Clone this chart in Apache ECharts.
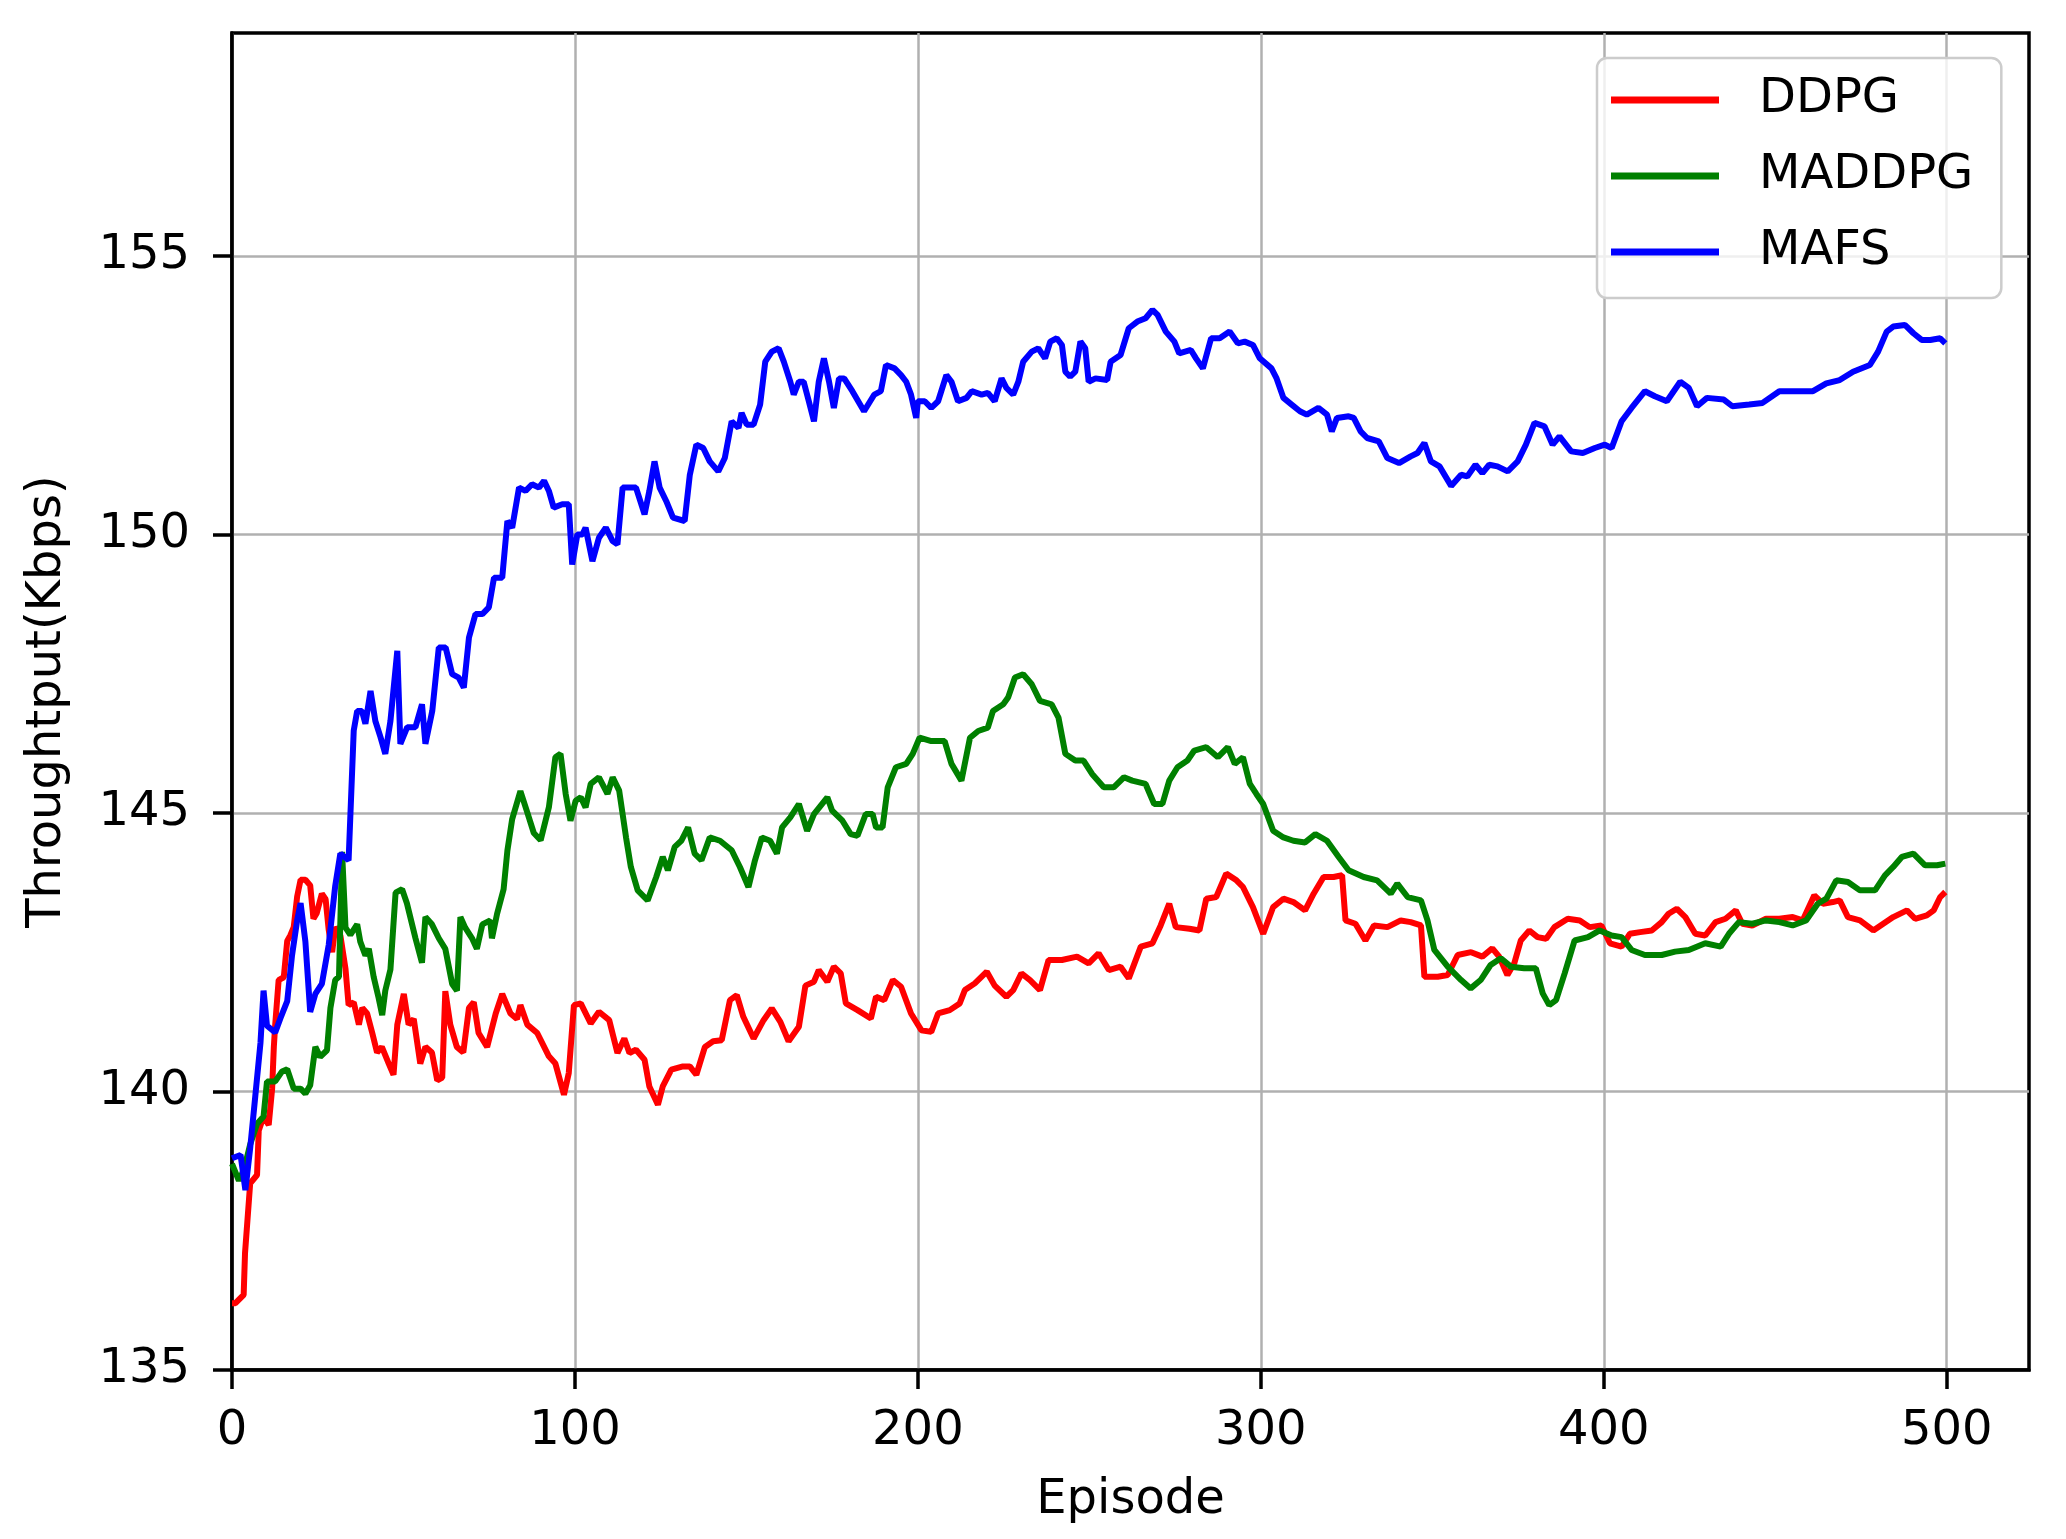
<!DOCTYPE html>
<html><head><meta charset="utf-8">
<script src="https://cdn.jsdelivr.net/npm/echarts@6/dist/echarts.min.js"></script>
<style>html,body{margin:0;padding:0;background:#fff}#c{width:2066px;height:1539px}</style>
</head><body><div id="c"></div>
<script>
const xTicks = [0, 100, 200, 300, 400, 500];
const yTicks = [135, 140, 145, 150, 155];
const seriesNames = ['DDPG', 'MADDPG', 'MAFS'];
const seriesColors = ['#ff0000', '#008000', '#0000ff'];

const ddpg = [[0,136.2],[1,136.2],[3.4,136.35],[3.8,137.1],[5.3,138.35],[7.3,138.5],[7.8,139.3],[9.2,139.55],[10.7,139.4],[11.7,140.05],[12.2,140.8],[12.6,141.2],[13.6,142.0],[15.1,142.05],[16.1,142.7],[17,142.8],[18,142.95],[19,143.5],[20,143.8],[21.4,143.8],[22.8,143.7],[23.75,143.1],[24.7,143.2],[26.2,143.55],[27.3,143.45],[28.2,142.9],[29.2,142.5],[30.1,142.95],[31.6,142.8],[33.1,142.2],[34,141.55],[35.5,141.6],[37,141.2],[38,141.5],[39.4,141.4],[40.9,141.05],[42.3,140.7],[43.7,140.8],[45.7,140.5],[47.1,140.3],[48.2,141.2],[50.1,141.75],[51.5,141.2],[53,141.3],[54.9,140.5],[56.4,140.8],[58.3,140.7],[59.85,140.2],[61.3,140.25],[62.2,141.8],[63.65,141.2],[65.55,140.8],[67.45,140.7],[69.1,141.5],[70.5,141.6],[71.9,141.05],[74.4,140.8],[76.9,141.4],[78.8,141.75],[81.2,141.4],[83.1,141.3],[84.1,141.55],[86.1,141.2],[89,141.05],[92.4,140.63],[94.3,140.5],[96.8,139.94],[98.2,140.33],[99.7,141.55],[101.7,141.58],[104.6,141.22],[107,141.43],[110,141.28],[112.4,140.69],[114.4,140.95],[115.9,140.69],[117.8,140.75],[120.3,140.57],[121.7,140.09],[124.2,139.76],[125.6,140.09],[128.1,140.39],[131.5,140.45],[133.5,140.45],[135.4,140.3],[137.9,140.8],[140.3,140.9],[142.8,140.92],[145.2,141.64],[147.2,141.73],[149.1,141.34],[152.1,140.95],[155,141.28],[157.4,141.49],[159.9,141.25],[162.3,140.9],[165.3,141.16],[167.2,141.9],[169.7,141.97],[171.1,142.18],[173.6,141.97],[175.5,142.24],[177.5,142.12],[179,141.58],[182.4,141.46],[186.3,141.31],[187.8,141.7],[190.2,141.64],[192.7,142.0],[195.1,141.88],[198,141.4],[201,141.1],[203.9,141.07],[205.9,141.4],[209.3,141.46],[212.2,141.58],[213.7,141.82],[216.6,141.94],[220.1,142.15],[222.4,141.9],[225.8,141.7],[227.8,141.82],[230.2,142.12],[232.7,142.0],[235.6,141.82],[238.1,142.36],[242,142.36],[246.4,142.42],[249.8,142.3],[252.7,142.48],[255.7,142.18],[259.1,142.24],[261.5,142.03],[265,142.6],[268.4,142.66],[270.8,142.98],[273.3,143.37],[275.2,142.95],[279.2,142.92],[282.1,142.89],[284.1,143.46],[287,143.49],[289.9,143.91],[292.9,143.79],[294.8,143.67],[297.7,143.31],[300.7,142.83],[303.6,143.31],[306.6,143.46],[309.5,143.4],[312.9,143.25],[315.4,143.55],[318.3,143.85],[321.2,143.85],[323.7,143.88],[324.7,143.07],[327.6,143.01],[330.5,142.71],[333,142.98],[336.9,142.95],[340.8,143.07],[343.7,143.04],[346.7,142.98],[347.7,142.06],[351.6,142.06],[354.5,142.09],[357.4,142.45],[361.3,142.5],[364.6,142.42],[367.5,142.57],[369.5,142.42],[371.9,142.09],[373.9,142.3],[375.8,142.71],[378.3,142.89],[380.7,142.77],[383.2,142.74],[385.6,142.95],[389.5,143.1],[393,143.07],[395.9,142.95],[399.3,142.98],[401.8,142.66],[405.2,142.6],[407.6,142.83],[410.6,142.86],[414,142.89],[416.9,143.04],[418.9,143.19],[421.3,143.28],[423.8,143.13],[426.7,142.83],[429.6,142.8],[432.6,143.04],[435.5,143.1],[438.5,143.25],[440.4,143.01],[443.3,142.98],[447.3,143.1],[451.2,143.1],[455.1,143.13],[458,143.07],[461.4,143.52],[463.9,143.37],[466.8,143.4],[468.8,143.43],[471.2,143.13],[474.7,143.07],[478.6,142.89],[481.5,143.01],[484.4,143.13],[488.4,143.25],[490.8,143.1],[494.2,143.16],[496.2,143.25],[498.1,143.49],[499.6,143.58]];

const maddpg = [[0,138.7],[2,138.4],[3.5,138.6],[5.3,139.05],[7.3,139.42],[9.2,139.55],[10.2,140.18],[12.6,140.18],[14.6,140.36],[16.1,140.4],[18,140.05],[20,140.05],[21.4,139.96],[22.8,140.11],[24.3,140.8],[25.7,140.62],[27.7,140.74],[28.7,141.5],[30.1,142.0],[31.2,142.06],[32.1,144.3],[33.1,142.94],[34.5,142.81],[36.5,143.0],[37.4,142.69],[38.9,142.44],[39.9,142.56],[41.3,142.06],[42.75,141.68],[43.8,141.37],[44.7,141.81],[46.2,142.19],[47.7,143.57],[49.6,143.63],[51,143.38],[53.5,142.75],[55.4,142.31],[56.4,143.13],[58.3,143.0],[60.3,142.75],[62.2,142.56],[64.2,141.93],[65.6,141.81],[66.6,143.13],[68,142.94],[70,142.75],[71.4,142.56],[73,143.0],[75.3,143.07],[75.8,142.75],[77.3,143.19],[79.2,143.63],[80.3,144.32],[81.7,144.89],[84.1,145.39],[86.1,145.01],[88,144.64],[90,144.51],[92.4,145.1],[94.3,146.0],[95.8,146.06],[97.3,145.34],[98.7,144.86],[100.2,145.22],[101.7,145.28],[103.1,145.1],[104.6,145.52],[107,145.64],[109.5,145.34],[111,145.64],[112.9,145.4],[114.9,144.56],[116.3,144.03],[118.3,143.61],[121.2,143.43],[123.7,143.85],[125.6,144.21],[127.1,143.97],[129.1,144.39],[131,144.5],[133,144.74],[134.9,144.27],[136.9,144.15],[139.3,144.56],[142.3,144.5],[145.7,144.33],[148.1,144.03],[150.6,143.67],[152.5,144.15],[154.5,144.56],[156.9,144.5],[158.9,144.27],[160.4,144.74],[162.8,144.92],[165.3,145.16],[167.7,144.68],[169.7,144.98],[173.6,145.28],[175,145.04],[178,144.86],[180.4,144.62],[182.4,144.59],[184.8,144.98],[186.8,144.98],[187.8,144.74],[189.7,144.74],[191.2,145.46],[193.6,145.82],[196.6,145.88],[198.5,146.06],[200.5,146.35],[203.9,146.29],[207.8,146.29],[209.8,145.88],[212.7,145.58],[215.2,146.35],[217.6,146.47],[220.4,146.53],[221.9,146.83],[224.9,146.95],[226.3,147.07],[228.3,147.43],[230.7,147.49],[233.2,147.31],[235.6,147.01],[239,146.95],[241,146.71],[243,146.06],[245.9,145.94],[248.3,145.94],[250.8,145.7],[254.2,145.46],[257.1,145.46],[260.1,145.64],[262.5,145.58],[266.4,145.52],[268.9,145.16],[271.3,145.16],[273.3,145.58],[275.7,145.82],[278.6,145.94],[280.6,146.12],[284.1,146.18],[287.5,146.0],[290.4,146.18],[292.4,145.88],[294.8,146.0],[296.8,145.52],[298.7,145.34],[300.7,145.16],[303.6,144.68],[306.6,144.56],[309.5,144.5],[312.9,144.47],[315.9,144.62],[319.3,144.5],[322.7,144.21],[325.6,143.97],[330,143.85],[333.9,143.79],[337.9,143.55],[339.8,143.73],[342.8,143.49],[346.7,143.43],[348.6,143.07],[350.6,142.54],[354.5,142.24],[358.4,142.0],[361.2,141.85],[364.1,142.0],[367,142.27],[370,142.39],[372.9,142.24],[376.8,142.21],[380.2,142.21],[382.2,141.76],[384.1,141.55],[386.1,141.64],[388.6,142.12],[391.5,142.71],[395.4,142.77],[398.8,142.89],[402.3,142.8],[405.2,142.77],[408.1,142.54],[412,142.45],[416.9,142.45],[420.8,142.51],[424.8,142.54],[429.6,142.66],[434.1,142.6],[436.5,142.83],[439.4,143.04],[443.3,143.01],[447.3,143.07],[451.2,143.04],[455.1,142.98],[459,143.07],[462.4,143.37],[464.9,143.46],[467.8,143.79],[471.2,143.76],[474.7,143.61],[479.1,143.61],[482,143.88],[484.4,144.03],[486.9,144.21],[490.3,144.27],[493.7,144.06],[497.2,144.06],[499.6,144.09]];

const mafs = [[0,138.8],[2.5,138.86],[3.9,138.23],[5.3,138.98],[6.8,139.92],[8.3,140.87],[9.2,141.81],[10.2,141.18],[12.6,141.06],[14.1,141.31],[16.1,141.62],[17.5,142.44],[19,143.07],[20,143.38],[21.4,142.69],[22.8,141.43],[24.3,141.75],[26.2,141.93],[28.2,142.63],[30.1,143.69],[31.6,144.27],[34,144.15],[35.5,146.48],[36.5,146.83],[37.9,146.83],[38.9,146.6],[40.4,147.19],[41.8,146.65],[43.3,146.36],[44.7,146.06],[46.2,146.65],[48.2,147.91],[49.1,146.24],[51.1,146.54],[53.5,146.54],[55.4,146.95],[56.4,146.24],[58.4,146.83],[60.3,147.97],[62.3,147.97],[64.2,147.49],[66.1,147.43],[67.6,147.25],[69.1,148.15],[71,148.57],[73,148.57],[74.9,148.69],[76.4,149.22],[78.8,149.22],[80.3,150.24],[81.7,150.12],[83.7,150.84],[85.6,150.78],[87.5,150.9],[89.5,150.84],[91,150.96],[92.4,150.78],[93.8,150.48],[96.3,150.54],[98.2,150.54],[99.2,149.46],[100.7,150.0],[102.2,150.0],[103.1,150.12],[105.1,149.52],[107,149.94],[109,150.12],[111,149.88],[112.4,149.82],[113.9,150.84],[117.8,150.84],[120.3,150.36],[121.7,150.78],[123.2,151.31],[124.7,150.84],[126.6,150.6],[128.6,150.3],[132,150.24],[133.5,151.07],[135.4,151.61],[137.4,151.55],[139.3,151.31],[141.8,151.13],[143.7,151.37],[145.7,152.03],[147.7,151.91],[148.6,152.18],[150.1,151.97],[152.1,151.97],[154,152.33],[155.5,153.1],[157.4,153.28],[159.4,153.34],[160.9,153.1],[162.8,152.74],[163.8,152.51],[165.3,152.74],[166.7,152.74],[168.2,152.39],[169.7,152.03],[171.1,152.74],[172.6,153.16],[174.1,152.74],[175.5,152.27],[177,152.8],[178.5,152.8],[180.9,152.57],[184.3,152.21],[187.3,152.51],[189.2,152.57],[190.7,153.04],[193.2,152.98],[195.1,152.86],[196.6,152.74],[198,152.51],[199.5,152.09],[200,152.39],[202,152.39],[203.9,152.27],[205.9,152.39],[208.3,152.86],[209.8,152.74],[211.7,152.39],[214.2,152.45],[215.7,152.57],[218.6,152.51],[220.4,152.54],[222.4,152.39],[224.4,152.8],[225.8,152.63],[227.8,152.51],[229.3,152.74],[230.7,153.1],[233.2,153.28],[235.1,153.34],[237.1,153.16],[238.6,153.46],[240.5,153.52],[242,153.4],[243,152.92],[244.4,152.83],[245.9,152.92],[247.4,153.46],[248.8,153.34],[249.8,152.74],[251.8,152.8],[255.2,152.77],[256.2,153.1],[259.1,153.22],[261.5,153.7],[264,153.82],[266.4,153.88],[268.4,154.03],[269.9,153.94],[272.3,153.64],[274.8,153.46],[276.2,153.25],[279.6,153.31],[281.1,153.16],[283.1,152.98],[285.5,153.52],[288,153.52],[290.9,153.64],[293.3,153.43],[295.3,153.46],[297.7,153.4],[299.7,153.16],[303.1,152.98],[304.6,152.8],[306.6,152.45],[309,152.33],[311.4,152.21],[313.4,152.15],[316.8,152.27],[319.3,152.15],[320.7,151.85],[322.2,152.09],[325.6,152.12],[327.1,152.09],[329.1,151.85],[331,151.73],[334.4,151.67],[336.9,151.37],[340.3,151.28],[343.7,151.4],[345.7,151.46],[347.7,151.64],[349.6,151.31],[352.1,151.22],[355.5,150.87],[358.4,151.07],[360.2,151.04],[362.6,151.25],[364.6,151.1],[366.6,151.25],[369,151.22],[372,151.13],[374.9,151.31],[377.3,151.61],[379.8,152.0],[382.7,151.94],[385.1,151.61],[387.1,151.76],[390.5,151.49],[393.9,151.46],[397.4,151.55],[400.3,151.61],[402.3,151.55],[405.2,152.03],[408.1,152.27],[412,152.57],[414.9,152.48],[418.4,152.39],[422.3,152.74],[424.8,152.63],[427.2,152.3],[430.1,152.45],[435,152.42],[437.5,152.3],[442.4,152.33],[446.3,152.36],[451.2,152.57],[457,152.57],[461,152.57],[464.9,152.71],[468.8,152.77],[472.7,152.92],[477.6,153.04],[480,153.28],[482.5,153.64],[484.4,153.73],[487.8,153.76],[490.3,153.61],[492.7,153.49],[495.2,153.49],[498.1,153.52],[499.6,153.43]];

const FONT = 'DejaVu Sans';
const chart = echarts.init(document.getElementById('c'), null, {renderer: 'canvas'});
const dataSets = [ddpg, maddpg, mafs];
const axisBase = {
  axisLine: {show: true, onZero: false, lineStyle: {color: '#000', width: 3.5}},
  splitLine: {show: true, lineStyle: {color: '#b0b0b0', width: 2.5}},
  nameTextStyle: {fontSize: 48, color: '#000', fontFamily: FONT},
};
chart.setOption({
  animation: false,
  backgroundColor: '#ffffff',
  grid: {left: 232, right: 37, top: 33, bottom: 169, containLabel: false, outerBoundsMode: 'none',
         show: true, borderColor: '#000', borderWidth: 3.5, backgroundColor: 'transparent'},
  legend: {
    orient: 'vertical', left: 1597, top: 58,
    data: seriesNames.map(n => ({name: n, icon: 'rect'})),
    itemWidth: 108, itemHeight: 7, itemGap: 28,
    padding: [18, 28, 22, 14],
    backgroundColor: 'rgba(255,255,255,0.8)', borderColor: '#cccccc', borderWidth: 2.5, borderRadius: 10,
    textStyle: {fontSize: 48, color: '#000', fontFamily: FONT, lineHeight: 48, padding: [0, 0, 0, 35]},
    selectedMode: false
  },
  xAxis: Object.assign({}, axisBase, {
    type: 'value', min: 0, max: 524, interval: 100,
    name: 'Episode', nameLocation: 'middle', nameGap: 107,
    axisTick: {show: true, length: 19, inside: false, lineStyle: {color: '#000', width: 3.5}, customValues: xTicks},
    axisLabel: {fontSize: 48, color: '#000', fontFamily: FONT, margin: 38, customValues: xTicks}
  }),
  yAxis: Object.assign({}, axisBase, {
    type: 'value', min: 135, max: 159, interval: 5,
    name: 'Throughtput(Kbps)', nameLocation: 'middle', nameGap: 160, nameRotate: 90,
    axisTick: {show: true, length: 19, inside: false, lineStyle: {color: '#000', width: 3.5}, customValues: yTicks},
    axisLabel: {fontSize: 48, color: '#000', fontFamily: FONT, margin: 42, customValues: yTicks}
  }),
  series: seriesNames.map((n, i) => ({
    name: n, type: 'line', data: dataSets[i], showSymbol: false, symbol: 'none',
    lineStyle: {color: seriesColors[i], width: 6}, itemStyle: {color: seriesColors[i]},
    emphasis: {disabled: true}, silent: true
  }))
});
</script>
</body></html>
